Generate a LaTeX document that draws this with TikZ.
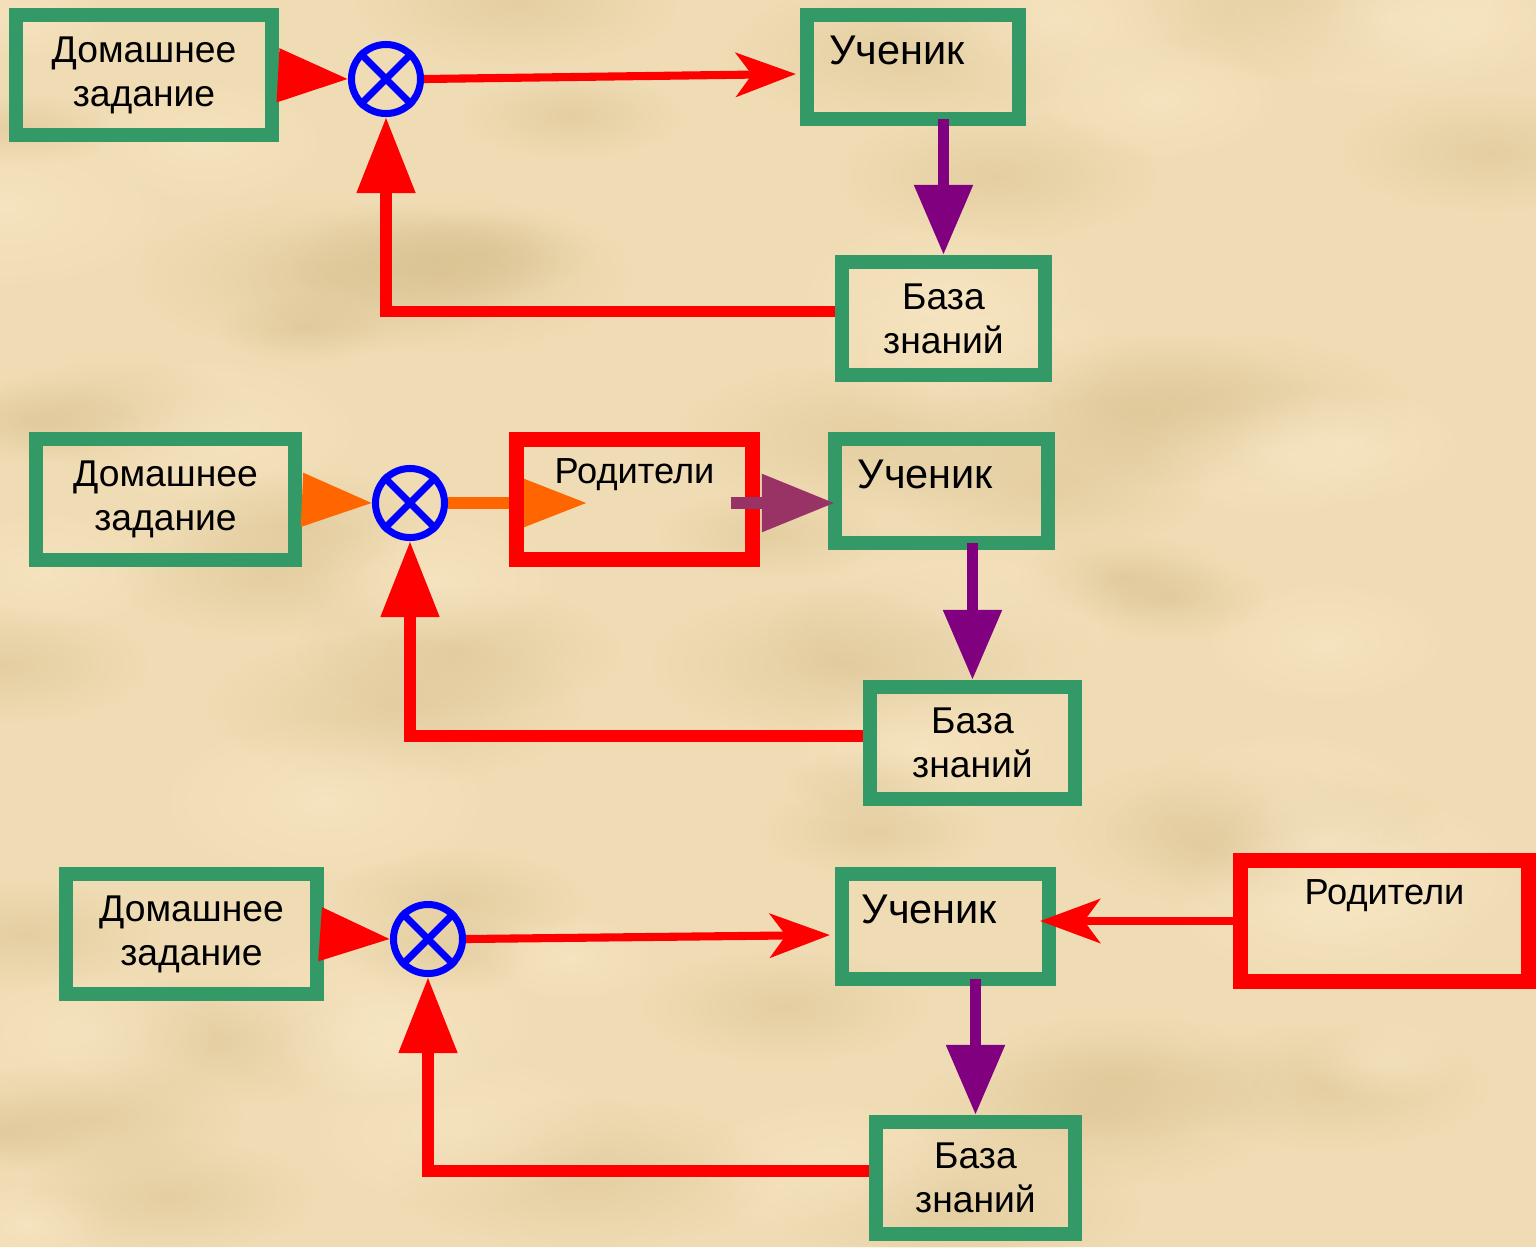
\documentclass[tikz,border=0pt]{standalone}
\usepackage{fontspec}
\setmainfont{Liberation Sans}
\usetikzlibrary{arrows.meta,fadings}

\definecolor{paper}{RGB}{240,220,180}
\definecolor{pyatno}{RGB}{214,190,140}
\definecolor{svet}{RGB}{252,236,204}
\definecolor{grn}{RGB}{51,153,102}
\definecolor{purp}{RGB}{128,0,128}
\definecolor{orng}{RGB}{255,102,0}
\definecolor{mauve}{RGB}{153,51,102}

\tikzfading[name=myagko, inner color=transparent!0, outer color=transparent!100]

\pgfdeclarelayer{fon}
\pgfdeclarelayer{niz}
\pgfsetlayers{fon,niz,main}

\begin{document}
\begin{tikzpicture}[x=0.01cm, y=-0.01cm,
    zadanie/.style={draw=grn, line width=4pt, outer sep=0pt, inner sep=0pt, align=center, font=\fontsize{10.6}{12.5}\selectfont},
    ucht/.style={font=\fontsize{11.8}{14}\selectfont, inner sep=0pt, shift={(-16,-17)}},
    roditeli/.style={draw=red, line width=4.3pt, outer sep=0pt, inner sep=0pt},
    rodt/.style={font=\fontsize{10.3}{12.5}\selectfont, inner sep=0pt, shift={(0,-25)}},
    summa/.style={circle, draw=blue, line width=2pt, minimum size=0.69cm, inner sep=0pt},
    vhod/.style={line width=2.3pt, shorten <=0.07cm, -{Triangle[length=0.7cm,width=0.52cm]}},
    strelka/.style={red, line width=2.3pt, -{Stealth[length=0.6cm,width=0.44cm,inset=0.16cm]}},
    vniz/.style={purp, line width=3.3pt, -{Triangle[length=0.7cm,width=0.56cm]}},
    nazad/.style={red, line width=3.3pt, -{Triangle[length=0.76cm,width=0.56cm]}},
    klyaksa/.style={path fading=myagko, fill opacity=0.45}]

    \useasboundingbox (0,0) rectangle (1536,1247);
    \begin{pgfonlayer}{fon}
        \fill[paper] (0,0) rectangle (1536,1247);
        % pyatna
        \pgfmathsetseed{7}
        \foreach \i in {1,...,45}{
            \pgfmathsetmacro{\px}{random(0,1536)}
            \pgfmathsetmacro{\py}{random(0,1247)}
            \pgfmathsetmacro{\pa}{random(80,200)}
            \fill[pyatno, klyaksa] (\px,\py) ellipse ({\pa*0.01cm} and {\pa*0.004cm});
        }
        \foreach \i in {1,...,30}{
            \pgfmathsetmacro{\px}{random(0,1536)}
            \pgfmathsetmacro{\py}{random(0,1247)}
            \pgfmathsetmacro{\pa}{random(80,180)}
            \fill[svet, klyaksa] (\px,\py) ellipse ({\pa*0.01cm} and {\pa*0.005cm});
        }
    \end{pgfonlayer}

    % 1
    \node[zadanie, minimum width=2.56cm, minimum height=1.2cm] (d1) at (144,75) {Домашнее\\задание};
    \node[summa] (c1) at (386,79) {};
    \node[zadanie, minimum width=2.12cm, minimum height=1.04cm, label={[name=u1t, ucht]center:Ученик}] (u1) at (913,67) {};
    \node[zadanie, minimum width=2.03cm, minimum height=1.13cm] (b1) at (943.5,318.5) {База\\знаний};

    \draw[vhod, red] (d1.east) -- (c1.west);
    \draw[strelka] (c1.east) -- ([shift={(-11,7)}]u1.west);
    \draw[vniz] (u1.south -| b1.north) -- ([yshift=0.07cm]b1.north);
    \draw[nazad, shorten <=0.07cm] ([yshift=0.07cm]b1.west) -| (c1.south);

    % 2
    \node[zadanie, minimum width=2.59cm, minimum height=1.21cm] (d2) at (165.5,499.5) {Домашнее\\задание};
    \node[summa] (c2) at (410,503) {};
    \node[roditeli, minimum width=2.36cm, minimum height=1.2cm, label={[name=r2t, rodt]center:Родители}] (r2) at (634.5,499.5) {};
    \node[zadanie, minimum width=2.13cm, minimum height=1.04cm, label={[name=u2t, ucht]center:Ученик}] (u2) at (941.5,491) {};
    \node[zadanie, minimum width=2.05cm, minimum height=1.12cm] (b2) at (972.5,743) {База\\знаний};

    \draw[vhod, orng] (d2.east) -- (c2.west);
    \begin{pgfonlayer}{niz}
        \draw[orng, line width=3.4pt, -{Triangle[length=0.7cm,width=0.5cm]}, shorten >=0.47cm] (c2.east) -- (c2 -| r2.center);
    \end{pgfonlayer}
    \draw[mauve, line width=3.4pt, -{Triangle[length=0.73cm,width=0.55cm]}, shorten <=-0.22cm] (c2 -| r2.east) -- (c2 -| u2.west);
    \draw[vniz] (u2.south -| b2.north) -- ([yshift=0.07cm]b2.north);
    \draw[nazad, shorten <=0.07cm] ([yshift=0.07cm]b2.west) -| (c2.south);

    % 3
    \node[zadanie, minimum width=2.51cm, minimum height=1.2cm] (d3) at (191.5,934) {Домашнее\\задание};
    \node[summa] (c3) at (428,939) {};
    \node[zadanie, minimum width=2.07cm, minimum height=1.05cm, label={[name=u3t, ucht]center:Ученик}] (u3) at (945.5,926.5) {};
    \node[roditeli, minimum width=2.88cm, minimum height=1.21cm, label={[name=r3t, rodt]center:Родители}] (r3) at (1384.5,921) {};
    \node[zadanie, minimum width=1.99cm, minimum height=1.12cm] (b3) at (975.5,1178) {База\\знаний};

    \draw[vhod, red] (d3.east) -- (c3.west);
    \draw[strelka] (c3.east) -- ([shift={(-12,8.5)}]u3.west);
    \draw[strelka, shorten >=-0.09cm] (r3.west) -- (r3.west -| u3.east);
    \draw[vniz] (u3.south -| b3.north) -- ([yshift=0.07cm]b3.north);
    \draw[nazad, shorten <=0.07cm] ([yshift=0.07cm]b3.west) -| (c3.south);

    % krestiki
    \foreach \c in {c1,c2,c3}
        \draw[blue, line width=2pt] (\c.north west) -- (\c.south east) (\c.north east) -- (\c.south west);
\end{tikzpicture}
\end{document}
